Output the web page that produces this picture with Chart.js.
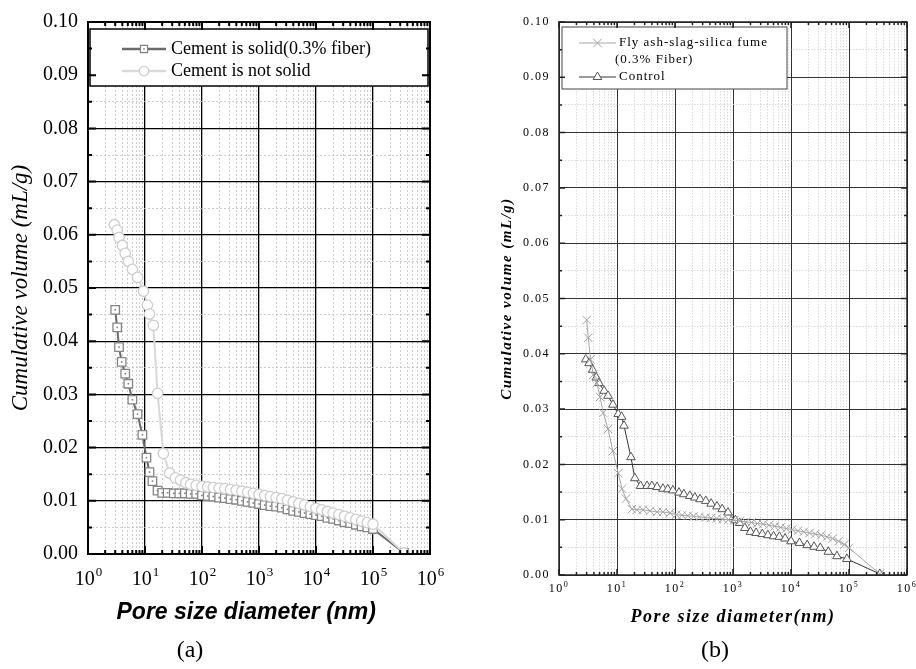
<!DOCTYPE html>
<html lang="en">
<head>
<meta charset="UTF-8">
<title>Cumulative pore volume</title>
<script src="https://cdn.jsdelivr.net/npm/chart.js"></script>
<style>
    body { margin: 0; background: #fff; }
    .wrap { position: relative; width: 916px; height: 669px; overflow: hidden; }
    #chartA { position: absolute; left: 0; top: 0; }
    #chartB { position: absolute; left: 460px; top: 0; }
    .cap {
        position: absolute;
        font-family: 'Liberation Serif', 'Times New Roman', serif;
        font-size: 24px;
        transform: translateX(-50%);
    }
</style>
</head>
<body>
<div class="wrap">
    <canvas id="chartA" width="450" height="640"></canvas>
    <canvas id="chartB" width="466" height="640"></canvas>
    <div class="cap" style="left:190px; top:636px">(a)</div>
    <div class="cap" style="left:715px; top:636px">(b)</div>
</div>

<script>
// (a) cement is solid / not solid
const solidX = [3.0, 3.25, 3.5, 3.9, 4.5, 5.1, 6.0, 7.4, 9.0, 10.6, 12, 13.5, 16.6, 20, 25, 32, 40, 50, 63, 79,
    100, 126, 158, 200, 251, 316, 398, 501, 631, 794, 1000, 1259, 1585, 1995, 2512, 3162, 3981, 5012, 6310, 7943,
    10000, 12589, 15849, 19953, 25119, 31623, 39811, 50119, 63096, 79433, 100000, 350000];
const solidY = [0.0459, 0.0426, 0.0389, 0.0361, 0.0339, 0.0320, 0.0290, 0.0263, 0.0224, 0.0181, 0.0154, 0.0137,
    0.0119, 0.0115, 0.0115, 0.0114, 0.0114, 0.0114, 0.0113, 0.0113, 0.0110, 0.0109, 0.0108, 0.0106, 0.0105, 0.0103,
    0.0102, 0.0100, 0.0098, 0.0096, 0.0094, 0.0092, 0.0090, 0.0089, 0.0087, 0.0084, 0.0081, 0.0079, 0.0077, 0.0075,
    0.0073, 0.0071, 0.0068, 0.0066, 0.0063, 0.0060, 0.0058, 0.0055, 0.0052, 0.0050, 0.0047, 0.0002];

const notSolidX = [2.9, 3.25, 3.5, 4.0, 4.5, 5.1, 6.0, 7.4, 9.4, 11, 12, 14, 16.6, 21, 27, 34, 42, 52, 63, 79,
    100, 126, 158, 200, 251, 316, 398, 501, 631, 794, 1000, 1259, 1585, 1995, 2512, 3162, 3981, 5012, 6310, 7943,
    10000, 12589, 15849, 19953, 25119, 31623, 39811, 50119, 63096, 79433, 100000, 350000];
const notSolidY = [0.0619, 0.0609, 0.0595, 0.0580, 0.0565, 0.0550, 0.0535, 0.0520, 0.0494, 0.0468, 0.0451, 0.0430,
    0.0302, 0.0189, 0.0152, 0.0143, 0.0139, 0.0134, 0.0131, 0.0129, 0.0127, 0.0126, 0.0125, 0.0124, 0.0123, 0.0121,
    0.0120, 0.0118, 0.0116, 0.0114, 0.0112, 0.0110, 0.0108, 0.0106, 0.0104, 0.0101, 0.0098, 0.0095, 0.0092, 0.0089,
    0.0086, 0.0083, 0.0080, 0.0077, 0.0074, 0.0071, 0.0068, 0.0065, 0.0062, 0.0059, 0.0056, 0.0002];

// (b) fly ash-slag-silica fume / control
const flyAshX = [3.0, 3.2, 3.5, 3.9, 4.5, 5.1, 5.8, 7.0, 8.5, 10.5, 12.2, 14.3, 18, 22, 28, 37, 49, 62, 82, 105,
    132, 166, 209, 263, 331, 417, 525, 661, 832, 1047, 1318, 1660, 2089, 2630, 3311, 4169, 5248, 6607, 8318, 10471,
    13183, 16596, 20893, 26303, 33113, 41687, 52481, 66069, 83176, 100000, 340000];
const flyAshY = [0.0461, 0.0429, 0.0390, 0.0362, 0.0347, 0.0322, 0.0293, 0.0264, 0.0224, 0.0184, 0.0156, 0.0138,
    0.0119, 0.0118, 0.0118, 0.0116, 0.0114, 0.0114, 0.0112, 0.0109, 0.0108, 0.0107, 0.0106, 0.0105, 0.0104, 0.0103,
    0.0102, 0.0101, 0.0100, 0.0099, 0.0098, 0.0096, 0.0095, 0.0093, 0.0092, 0.0090, 0.0088, 0.0086, 0.0084, 0.0082,
    0.0080, 0.0078, 0.0076, 0.0074, 0.0072, 0.0069, 0.0066, 0.0061, 0.0055, 0.0049, 0.0002];

const controlX = [2.9, 3.3, 3.8, 4.4, 4.9, 6.0, 7.0, 8.5, 10.5, 12, 13.2, 17.4, 20.3, 25.5, 33, 40, 49, 62, 75, 92,
    117, 142, 180, 220, 270, 340, 420, 530, 650, 820, 1100, 1300, 1600, 2000, 2500, 3200, 4000, 5000, 6300, 7900,
    10000, 14000, 19000, 25000, 32000, 44000, 62000, 92000, 340000];
const controlY = [0.0390, 0.0383, 0.0371, 0.0357, 0.0347, 0.0333, 0.0324, 0.0308, 0.0291, 0.0286, 0.0270, 0.0213,
    0.0175, 0.0161, 0.0161, 0.0161, 0.0159, 0.0156, 0.0155, 0.0153, 0.0149, 0.0146, 0.0143, 0.0140, 0.0137, 0.0134,
    0.0129, 0.0124, 0.0119, 0.0113, 0.0099, 0.0094, 0.0085, 0.0078, 0.0076, 0.0074, 0.0072, 0.0070, 0.0069, 0.0066,
    0.0061, 0.0058, 0.0054, 0.0051, 0.0049, 0.0042, 0.0034, 0.0029, 0.0002];

// axes
const decades = [1, 10, 100, 1e3, 1e4, 1e5, 1e6];
const decadeExponents = ['0', '1', '2', '3', '4', '5', '6'];
const yTickValues = [0, 0.005, 0.01, 0.015, 0.02, 0.025, 0.03, 0.035, 0.04, 0.045, 0.05,
    0.055, 0.06, 0.065, 0.07, 0.075, 0.08, 0.085, 0.09, 0.095, 0.1];
const yLabels = ['0.00', '0.01', '0.02', '0.03', '0.04', '0.05', '0.06', '0.07', '0.08', '0.09', '0.10'];

const xTickValues = [];
decades.slice(0, -1).forEach(d => {
    for (let m = 1; m < 10; m++) xTickValues.push(m * d);
});
xTickValues.push(1e6);

const pts = (xs, ys) => xs.map((x, i) => ({ x: x, y: ys[i] }));
const serif = "'Liberation Serif', 'Times New Roman', serif";
const sans = "'Liberation Sans', Arial, sans-serif";

// legend box drawn inside the plot
const boxLegend = {
    id: 'boxLegend',
    afterDatasetsDraw(chart, args, o) {
        if (!o.rows) return;
        const ctx = chart.ctx, a = chart.chartArea;
        const bx = a.left + o.left, by = a.top + o.top;
        ctx.save();
        ctx.fillStyle = '#fff';
        ctx.fillRect(bx, by, o.width, o.height);
        ctx.strokeStyle = o.borderColor;
        ctx.lineWidth = o.borderWidth;
        ctx.strokeRect(bx, by, o.width, o.height);
        ctx.letterSpacing = o.letterSpacing || '0px';
        ctx.font = o.font;
        ctx.textBaseline = 'middle';
        o.rows.forEach(r => {
            const ry = by + r.dy;
            if (r.dataset !== undefined) {
                const ds = chart.data.datasets[r.dataset];
                ctx.strokeStyle = ds.borderColor;
                ctx.lineWidth = o.lineWidth || ds.borderWidth;
                ctx.beginPath();
                ctx.moveTo(bx + o.lineX0, ry);
                ctx.lineTo(bx + o.lineX1, ry);
                ctx.stroke();
                const mx = bx + (o.lineX0 + o.lineX1) / 2;
                ctx.fillStyle = '#fff';
                ctx.strokeStyle = ds.pointBorderColor;
                ctx.lineWidth = ds.pointBorderWidth;
                Chart.helpers.drawPoint(ctx, {
                    pointStyle: ds.pointStyle, rotation: 0,
                    radius: r.radius || ds.pointRadius, borderWidth: ds.pointBorderWidth
                }, mx, ry);
                if (ds.dotColor) {
                    ctx.fillStyle = ds.dotColor;
                    ctx.fillRect(mx - 0.8, ry - 0.8, 1.6, 1.6);
                }
            }
            ctx.fillStyle = '#000';
            ctx.fillText(r.text, bx + (r.x || o.textX), ry);
        });
        ctx.restore();
    }
};

// small dot in the middle of the square markers
const squareDots = {
    id: 'squareDots',
    afterDatasetDraw(chart, args) {
        const ds = chart.data.datasets[args.index];
        if (!ds.dotColor) return;
        const ctx = chart.ctx;
        ctx.save();
        ctx.fillStyle = ds.dotColor;
        args.meta.data.forEach(p => ctx.fillRect(p.x - 0.8, p.y - 0.8, 1.6, 1.6));
        ctx.restore();
    }
};

// frame with inward ticks on all four sides
const frameTicks = {
    id: 'frameTicks',
    afterDraw(chart, args, o) {
        const ctx = chart.ctx, a = chart.chartArea;
        const x = chart.scales.x, y = chart.scales.y;
        ctx.save();
        ctx.strokeStyle = o.color;
        ctx.lineWidth = o.width;
        ctx.beginPath();
        x.ticks.forEach(t => {
            const px = x.getPixelForValue(t.value);
            const len = t.major ? o.major : o.minor;
            ctx.moveTo(px, a.bottom); ctx.lineTo(px, a.bottom - len);
            ctx.moveTo(px, a.top); ctx.lineTo(px, a.top + len);
        });
        y.ticks.forEach(t => {
            const py = y.getPixelForValue(t.value);
            const len = t.major ? o.major : o.minor;
            ctx.moveTo(a.left, py); ctx.lineTo(a.left + len, py);
            ctx.moveTo(a.right, py); ctx.lineTo(a.right - len, py);
        });
        ctx.stroke();
        ctx.strokeRect(a.left, a.top, a.right - a.left, a.bottom - a.top);
        ctx.restore();
    }
};

// "10" with a raised exponent under each decade
const powerLabels = {
    id: 'powerLabels',
    afterDraw(chart, args, o) {
        const ctx = chart.ctx, x = chart.scales.x;
        const base = o.size + 'px ' + serif, sup = o.supSize + 'px ' + serif;
        ctx.save();
        ctx.fillStyle = '#000';
        ctx.textBaseline = 'alphabetic';
        ctx.textAlign = 'left';
        decades.forEach((d, i) => {
            const px = x.getPixelForValue(d);
            ctx.font = base;
            const w1 = ctx.measureText('10').width;
            ctx.font = sup;
            const w2 = ctx.measureText(decadeExponents[i]).width;
            const left = px - (w1 + w2) / 2;
            ctx.font = base;
            ctx.fillText('10', left, x.top + o.baseline);
            ctx.font = sup;
            ctx.fillText(decadeExponents[i], left + w1 + o.gap, x.top + o.baseline - o.raise);
        });
        ctx.restore();
    }
};

const spacing = {
    id: 'spacing',
    beforeDraw(chart, args, o) {
        chart.ctx.letterSpacing = o.value || '0px';
    }
};

function panel(id, datasets, look) {
    const major = c => c.tick && c.tick.major;
    return new Chart(document.getElementById(id), {
        type: 'scatter',
        data: { datasets: datasets },
        options: {
            responsive: false,
            animation: false,
            events: [],
            layout: { padding: look.padding },
            elements: { line: { tension: 0 } },
            plugins: {
                legend: { display: false },
                tooltip: { enabled: false },
                boxLegend: look.legend,
                frameTicks: look.frame,
                powerLabels: look.power,
                spacing: { value: look.letterSpacing }
            },
            scales: {
                x: {
                    type: 'logarithmic',
                    min: 1,
                    max: 1e6,
                    afterBuildTicks: s => { s.ticks = xTickValues.map(v => ({ value: v, major: decades.includes(v) })); },
                    afterFit: s => { s.height = look.xHeight; },
                    ticks: { display: false },
                    grid: {
                        drawTicks: false,
                        color: c => major(c) ? look.majorColor : look.minorColor,
                        lineWidth: c => major(c) ? look.majorWidth : 0.8
                    },
                    border: { display: false, dash: c => major(c) || !c.tick ? [] : look.minorDash },
                    title: {
                        display: true, text: look.xTitle, color: '#000', font: look.xTitleFont,
                        padding: { top: 0, bottom: look.xTitlePad }
                    }
                },
                y: {
                    type: 'linear',
                    min: 0,
                    max: 0.1,
                    afterBuildTicks: s => { s.ticks = yTickValues.map((v, i) => ({ value: v, major: i % 2 === 0 })); },
                    afterFit: s => { s.width = look.yWidth; },
                    ticks: {
                        autoSkip: false, color: '#000',
                        padding: look.yTickPad, font: look.tickFont,
                        callback: (v, i) => i % 2 === 0 ? yLabels[i / 2] : ''
                    },
                    grid: {
                        drawTicks: false,
                        color: c => major(c) ? look.majorColor : look.minorColor,
                        lineWidth: c => major(c) ? look.majorWidth : 0.8
                    },
                    border: { display: false, dash: c => major(c) || !c.tick ? [] : look.minorDash },
                    title: {
                        display: true, text: 'Cumulative volume (mL/g)', color: '#000', font: look.yTitleFont,
                        padding: { top: look.yTitlePad, bottom: 0 }
                    }
                }
            }
        },
        plugins: [squareDots, boxLegend, frameTicks, powerLabels, spacing]
    });
}

// panel (a)
panel('chartA', [
    {
        label: 'Cement is solid(0.3% fiber)', data: pts(solidX, solidY), showLine: true,
        borderColor: '#6b6b6b', borderWidth: 2, pointStyle: 'rect', pointRadius: 6,
        pointBorderColor: '#858585', pointBackgroundColor: '#fff', pointBorderWidth: 1.3,
        dotColor: '#808080', order: 2
    },
    {
        label: 'Cement is not solid', data: pts(notSolidX, notSolidY), showLine: true,
        borderColor: '#d9d9d9', borderWidth: 2, pointStyle: 'circle', pointRadius: 5.2,
        pointBorderColor: '#cdcdcd', pointBackgroundColor: '#fff', pointBorderWidth: 1.3, order: 1
    }
], {
    padding: { left: 0, top: 15, right: 20, bottom: 0 },
    xHeight: 86, yWidth: 88,
    yTickPad: 10,
    tickFont: { family: serif, size: 20, lineHeight: 1.2 },
    power: { size: 20, supSize: 13, baseline: 31, raise: 9, gap: 1 },
    // trailing spaces nudge the centred title left, as in the source figure
    xTitle: 'Pore size diameter (nm)    ',
    xTitleFont: { family: sans, size: 23, style: 'italic', weight: 'bold', lineHeight: 1.2 },
    xTitlePad: 14,
    yTitleFont: { family: serif, size: 23, style: 'italic', lineHeight: 1.2 },
    yTitlePad: 7,
    majorColor: '#000', minorColor: '#c2c2c2', majorWidth: 1.3, minorDash: [2, 2],
    frame: { color: '#000', width: 2, major: 8, minor: 4 },
    legend: {
        left: 2, top: 7, width: 338, height: 57, borderColor: '#000', borderWidth: 1.5,
        font: '18px ' + serif, lineX0: 32, lineX1: 76, textX: 81, lineWidth: 2.5,
        rows: [
            { dataset: 0, text: 'Cement is solid(0.3% fiber)', dy: 20, radius: 5 },
            { dataset: 1, text: 'Cement is not solid', dy: 42, radius: 4.8 }
        ]
    }
});

// panel (b)
panel('chartB', [
    {
        label: 'Fly ash-slag-silica fume (0.3% Fiber)', data: pts(flyAshX, flyAshY), showLine: true,
        borderColor: '#a6a6a6', borderWidth: 1, pointStyle: 'crossRot', pointRadius: 6,
        pointBorderColor: '#a4a4a4', pointBackgroundColor: '#fff', pointBorderWidth: 1, order: 1
    },
    {
        label: 'Control', data: pts(controlX, controlY), showLine: true,
        borderColor: '#333', borderWidth: 1, pointStyle: 'triangle', pointRadius: 5,
        pointBorderColor: '#555', pointBackgroundColor: '#fff', pointBorderWidth: 1, order: 2
    }
], {
    padding: { left: 0, top: 22, right: 19, bottom: 0 },
    xHeight: 65, yWidth: 99,
    yTickPad: 9,
    tickFont: { family: serif, size: 12, lineHeight: 1.2 },
    power: { size: 12, supSize: 8, baseline: 17, raise: 5, gap: 0 },
    xTitle: 'Pore size diameter(nm)',
    xTitleFont: { family: serif, size: 18, style: 'italic', weight: 'bold', lineHeight: 1.2 },
    xTitlePad: 12,
    yTitleFont: { family: serif, size: 15, style: 'italic', weight: 'bold', lineHeight: 1.2 },
    yTitlePad: 38,
    majorColor: '#333', minorColor: '#d0d0d0', majorWidth: 1, minorDash: [1.5, 1.5],
    frame: { color: '#222', width: 1.5, major: 6, minor: 3 },
    letterSpacing: '1.5px',
    legend: {
        left: 3, top: 5, width: 225, height: 62, borderColor: '#444', borderWidth: 1,
        font: '13px ' + serif, letterSpacing: '1px', lineX0: 17, lineX1: 54, textX: 57,
        rows: [
            { dataset: 0, text: 'Fly ash-slag-silica fume', dy: 16 },
            { text: '(0.3% Fiber)', dy: 33, x: 53 },
            { dataset: 1, text: 'Control', dy: 50 }
        ]
    }
});
</script>
</body>
</html>
